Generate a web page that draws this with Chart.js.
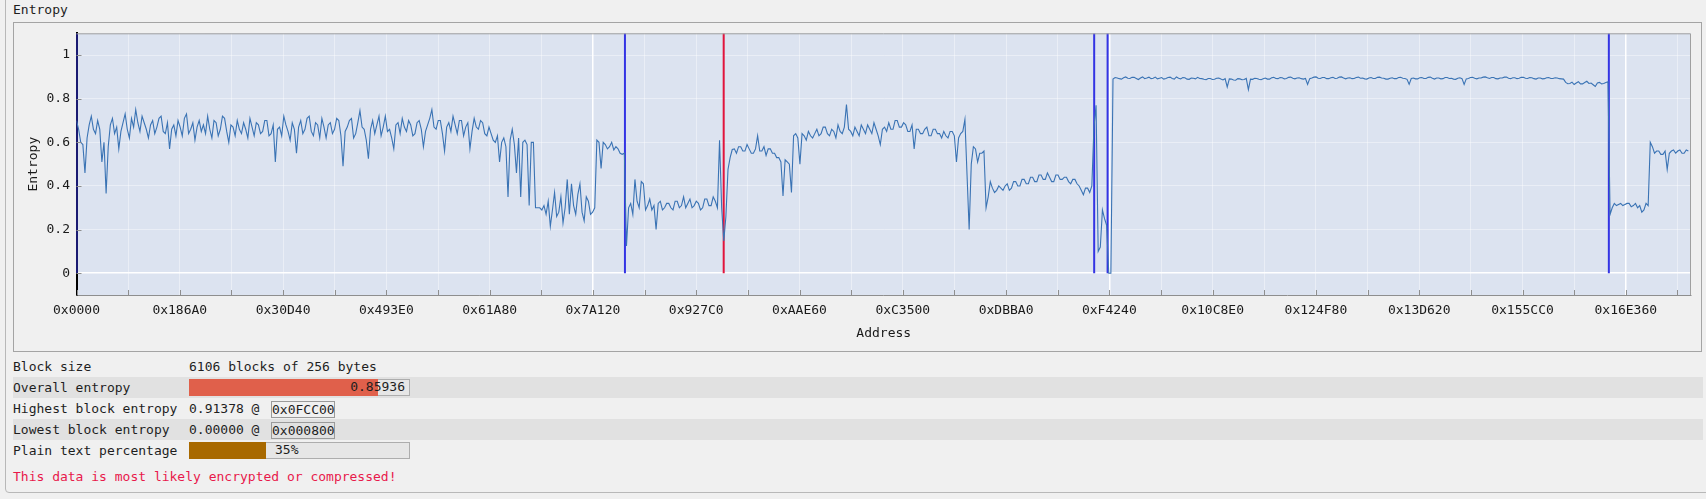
<!DOCTYPE html>
<html>
<head>
<meta charset="utf-8">
<script src="https://cdn.jsdelivr.net/npm/chart.js@4.4.0/dist/chart.umd.min.js"></script>
<style>
  html, body { margin: 0; padding: 0; }
  body {
    width: 1706px; height: 499px; position: relative; overflow: hidden;
    background: #f0f0f0; color: #1e1e1e;
    font-family: "DejaVu Sans Mono", "Liberation Mono", monospace; font-size: 13px;
  }
  .frame { position: absolute; left: 5px; top: -10px; width: 1720px; height: 503px;
           border: 1px solid #b8b8b8; border-radius: 4px; box-sizing: border-box; }
  .box { position: absolute; left: 13px; top: 22px; width: 1689px; height: 330px;
         border: 1px solid #a4a4a4; box-sizing: border-box; }
  .t { position: absolute; height: 16px; line-height: 16px; white-space: pre; }
  .band { position: absolute; left: 13px; width: 1690px; height: 21px; background: #e1e1e1; }
  .bar { position: absolute; left: 189px; width: 221px; height: 17px; background: #e6e6e6;
         border: 1px solid #adadad; box-sizing: border-box; }
  .fill { position: absolute; left: 189px; height: 17px; }
  .hex { position: absolute; left: 271px; width: 64px; height: 17px; line-height: 15px;
         border: 1px solid #9a9a9a; box-sizing: border-box; white-space: pre; }
  #chart { position: absolute; left: 14px; top: 23px; }
</style>
</head>
<body>
<div class="frame"></div>
<div class="t" style="left:13px; top:2px;">Entropy</div>
<div class="box"></div>
<canvas id="chart" width="1686" height="327" style="width:1686px; height:327px;"></canvas>

<div class="t" style="left:13px; top:359px;">Block size</div>
<div class="t" style="left:189px; top:359px;">6106 blocks of 256 bytes</div>

<div class="band" style="top:377px;"></div>
<div class="t" style="left:13px; top:380px;">Overall entropy</div>
<div class="bar" style="top:379px;"></div>
<div class="fill" id="entropyFill" style="top:379px; background:#e0604b;"></div>
<div class="t" id="entropyText" style="left:189px; top:379px; width:216px; text-align:right;"></div>

<div class="t" style="left:13px; top:401px;">Highest block entropy</div>
<div class="t" style="left:189px; top:401px;">0.91378 @ </div>
<div class="hex" style="top:401px;">0x0FCC00</div>

<div class="band" style="top:419px;"></div>
<div class="t" style="left:13px; top:422px;">Lowest block entropy</div>
<div class="t" style="left:189px; top:422px;">0.00000 @ </div>
<div class="hex" style="top:422px;">0x000800</div>

<div class="t" style="left:13px; top:443px;">Plain text percentage</div>
<div class="bar" style="top:442px;"></div>
<div class="fill" id="plainFill" style="top:442px; background:#a86900;"></div>
<div class="t" id="plainText" style="left:275px; top:442px;"></div>

<div class="t" style="left:13px; top:469px; color:#e8194b;">This data is most likely encrypted or compressed!</div>

<script>
// one sample every 8 blocks of 256 bytes
var blockStep = 2048;
var totalBytes = 6106 * 256;

var entropy = [
  // 0
  0.70, 0.66, 0.60, 0.59, 0.46, 0.62, 0.68, 0.72, 0.66, 0.64, 0.70, 0.66, 0.51, 0.60, 0.365, 0.58, 0.68, 0.71, 0.64, 0.67,
  0.57, 0.65, 0.69, 0.73, 0.66, 0.62, 0.71, 0.67, 0.75, 0.69, 0.65, 0.72, 0.69, 0.66, 0.62, 0.68, 0.70, 0.64, 0.67, 0.71,
  // 40
  0.72, 0.65, 0.64, 0.69, 0.57, 0.66, 0.68, 0.63, 0.70, 0.67, 0.63, 0.71, 0.73, 0.64, 0.66, 0.69, 0.61, 0.67, 0.70, 0.65,
  0.68, 0.64, 0.72, 0.66, 0.62, 0.70, 0.69, 0.63, 0.66, 0.72, 0.71, 0.65, 0.60, 0.68, 0.67, 0.63, 0.70, 0.66, 0.64, 0.69,
  // 80
  0.66, 0.62, 0.71, 0.67, 0.63, 0.69, 0.68, 0.64, 0.65, 0.70, 0.70, 0.63, 0.64, 0.68, 0.51, 0.66, 0.67, 0.63, 0.72, 0.68,
  0.65, 0.61, 0.69, 0.66, 0.55, 0.67, 0.70, 0.64, 0.66, 0.71, 0.72, 0.65, 0.63, 0.69, 0.68, 0.62, 0.71, 0.67, 0.62, 0.68,
  // 120
  0.69, 0.64, 0.66, 0.71, 0.70, 0.63, 0.49, 0.65, 0.67, 0.70, 0.71, 0.62, 0.64, 0.69, 0.745, 0.67, 0.66, 0.61, 0.525, 0.66,
  0.70, 0.64, 0.68, 0.72, 0.63, 0.67, 0.72, 0.65, 0.66, 0.62, 0.57, 0.68, 0.69, 0.64, 0.71, 0.67, 0.65, 0.70, 0.68, 0.63,
  // 160
  0.64, 0.69, 0.70, 0.66, 0.58, 0.65, 0.68, 0.71, 0.75, 0.67, 0.66, 0.70, 0.70, 0.64, 0.56, 0.67, 0.69, 0.65, 0.72, 0.68,
  0.64, 0.70, 0.70, 0.63, 0.67, 0.69, 0.57, 0.65, 0.71, 0.67, 0.66, 0.70, 0.69, 0.64, 0.63, 0.67, 0.64, 0.61, 0.60, 0.63,
  // 200
  0.51, 0.60, 0.62, 0.58, 0.35, 0.61, 0.66, 0.59, 0.46, 0.62, 0.35, 0.60, 0.61, 0.59, 0.31, 0.60, 0.60, 0.30, 0.30, 0.30,
  0.29, 0.31, 0.27, 0.33, 0.215, 0.29, 0.37, 0.26, 0.28, 0.35, 0.23, 0.30, 0.43, 0.27, 0.41, 0.31, 0.27, 0.36, 0.41, 0.28,
  // 240
  0.24, 0.35, 0.33, 0.27, 0.28, 0.30, 0.61, 0.60, 0.48, 0.60, 0.59, 0.57, 0.58, 0.60, 0.565, 0.58, 0.57, 0.55, 0.545, 0.55,
  0.125, 0.30, 0.32, 0.27, 0.43, 0.33, 0.30, 0.42, 0.41, 0.29, 0.31, 0.34, 0.29, 0.31, 0.20, 0.32, 0.33, 0.29, 0.30, 0.32,
  // 280
  0.32, 0.30, 0.29, 0.33, 0.33, 0.30, 0.31, 0.35, 0.30, 0.32, 0.34, 0.30, 0.31, 0.33, 0.32, 0.29, 0.30, 0.34, 0.34, 0.31,
  0.31, 0.35, 0.33, 0.30, 0.61, 0.30, 0.148, 0.26, 0.476, 0.53, 0.567, 0.57, 0.55, 0.58, 0.58, 0.56, 0.56, 0.59, 0.57, 0.55,
  // 320
  0.55, 0.57, 0.63, 0.56, 0.56, 0.58, 0.54, 0.57, 0.57, 0.55, 0.55, 0.53, 0.53, 0.51, 0.354, 0.52, 0.51, 0.50, 0.37, 0.63,
  0.64, 0.62, 0.50, 0.64, 0.63, 0.61, 0.65, 0.63, 0.62, 0.64, 0.66, 0.63, 0.64, 0.67, 0.67, 0.64, 0.63, 0.66, 0.65, 0.62,
  // 360
  0.68, 0.65, 0.64, 0.67, 0.773, 0.66, 0.65, 0.63, 0.67, 0.65, 0.63, 0.68, 0.66, 0.64, 0.68, 0.66, 0.64, 0.69, 0.66, 0.63,
  0.59, 0.66, 0.67, 0.65, 0.69, 0.66, 0.66, 0.70, 0.70, 0.67, 0.67, 0.69, 0.68, 0.65, 0.65, 0.68, 0.57, 0.66, 0.66, 0.64,
  // 400
  0.64, 0.66, 0.67, 0.63, 0.63, 0.66, 0.66, 0.64, 0.64, 0.62, 0.65, 0.63, 0.62, 0.65, 0.65, 0.63, 0.51, 0.62, 0.64, 0.65,
  0.705, 0.45, 0.20, 0.50, 0.58, 0.57, 0.51, 0.55, 0.55, 0.56, 0.30, 0.35, 0.42, 0.39, 0.37, 0.38, 0.40, 0.39, 0.38, 0.40,
  // 440
  0.41, 0.38, 0.39, 0.42, 0.42, 0.40, 0.40, 0.43, 0.43, 0.41, 0.41, 0.44, 0.44, 0.42, 0.42, 0.45, 0.45, 0.43, 0.43, 0.46,
  0.44, 0.42, 0.42, 0.45, 0.45, 0.43, 0.43, 0.44, 0.44, 0.42, 0.41, 0.43, 0.43, 0.41, 0.40, 0.38, 0.36, 0.39, 0.39, 0.37,
  // 480
  0.40, 0.67, 0.77, 0.10, 0.12, 0.29, 0.25, 0.22, 0.0, 0.0, 0.89, 0.897, 0.895, 0.892, 0.89, 0.896, 0.90, 0.894, 0.893, 0.898,
  0.898, 0.893, 0.888, 0.895, 0.90, 0.892, 0.895, 0.899, 0.892, 0.894, 0.899, 0.891, 0.894, 0.897, 0.89, 0.893, 0.897, 0.899, 0.893, 0.89,
  // 520
  0.90, 0.894, 0.891, 0.897, 0.896, 0.89, 0.889, 0.895, 0.894, 0.891, 0.898, 0.893, 0.892, 0.889, 0.887, 0.893, 0.893, 0.888, 0.889, 0.894,
  0.895, 0.89, 0.886, 0.892, 0.854, 0.891, 0.89, 0.886, 0.885, 0.892, 0.891, 0.887, 0.888, 0.893, 0.842, 0.89, 0.889, 0.894, 0.893, 0.889,
  // 560
  0.887, 0.892, 0.895, 0.89, 0.89, 0.896, 0.898, 0.893, 0.892, 0.897, 0.896, 0.891, 0.893, 0.898, 0.899, 0.894, 0.891, 0.895, 0.896, 0.892,
  0.89, 0.893, 0.866, 0.892, 0.895, 0.899, 0.90, 0.894, 0.893, 0.897, 0.897, 0.892, 0.892, 0.896, 0.898, 0.893, 0.894, 0.899, 0.90, 0.895,
  // 600
  0.891, 0.895, 0.896, 0.892, 0.893, 0.897, 0.899, 0.894, 0.895, 0.891, 0.89, 0.895, 0.897, 0.893, 0.893, 0.898, 0.899, 0.895, 0.894, 0.89,
  0.89, 0.894, 0.896, 0.892, 0.892, 0.897, 0.898, 0.894, 0.893, 0.889, 0.866, 0.893, 0.895, 0.891, 0.891, 0.896, 0.897, 0.893, 0.893, 0.898,
  // 640
  0.899, 0.894, 0.89, 0.895, 0.895, 0.891, 0.892, 0.897, 0.897, 0.893, 0.894, 0.89, 0.889, 0.894, 0.896, 0.892, 0.866, 0.891, 0.893, 0.897,
  0.898, 0.894, 0.891, 0.895, 0.895, 0.899, 0.90, 0.896, 0.893, 0.897, 0.897, 0.892, 0.891, 0.895, 0.895, 0.899, 0.899, 0.894, 0.892, 0.896,
  // 680
  0.896, 0.892, 0.894, 0.898, 0.898, 0.894, 0.893, 0.897, 0.896, 0.892, 0.89, 0.895, 0.895, 0.891, 0.892, 0.896, 0.897, 0.893, 0.893, 0.896,
  0.895, 0.892, 0.891, 0.89, 0.875, 0.869, 0.87, 0.876, 0.865, 0.872, 0.878, 0.868, 0.868, 0.874, 0.88, 0.87, 0.872, 0.864, 0.856, 0.872,
  // 720
  0.875, 0.868, 0.87, 0.874, 0.878, 0.27, 0.30, 0.32, 0.31, 0.315, 0.32, 0.31, 0.315, 0.32, 0.32, 0.305, 0.31, 0.32, 0.30, 0.31,
  0.28, 0.29, 0.32, 0.31, 0.60, 0.58, 0.55, 0.56, 0.56, 0.545, 0.545, 0.56, 0.476, 0.55, 0.56, 0.565, 0.55, 0.56, 0.565, 0.55,
  // 760
  0.55, 0.565, 0.56
];

var blueMarks = [0, 531000, 985300, 998300, 1483600];
var redMarks = [626600];

var yTickValues = [0, 0.2, 0.4, 0.6, 0.8, 1];
var yTickLabels = ["0", "0.2", "0.4", "0.6", "0.8", "1"];

var xLabelStep = 100000;
var xGridStep = 50000;
var xTickLabels = ["0x0000", "0x186A0", "0x30D40", "0x493E0", "0x61A80", "0x7A120", "0x927C0", "0xAAE60",
  "0xC3500", "0xDBBA0", "0xF4240", "0x10C8E0", "0x124F80", "0x13D620", "0x155CC0", "0x16E360"];

var overallEntropy = 0.85936;
var plainTextPercent = 35;

// stats bars
var barWidth = 220.5;
document.getElementById("entropyFill").style.width = (barWidth * overallEntropy) + "px";
document.getElementById("entropyText").textContent = overallEntropy.toFixed(5);
document.getElementById("plainFill").style.width = (barWidth * plainTextPercent / 100) + "px";
document.getElementById("plainText").textContent = plainTextPercent + "%";

Chart.defaults.font.family = "'DejaVu Sans Mono', 'Liberation Mono', monospace";
Chart.defaults.font.size = 13;
Chart.defaults.color = "#1a1a1a";

var xGridValues = [];
for (var v = 0; v < totalBytes; v += xGridStep) xGridValues.push(v);

var panel = {
  id: "panel",
  beforeDraw: function(chart) {
    var ctx = chart.ctx, a = chart.chartArea;
    ctx.save();
    ctx.fillStyle = "#dce3f0";
    ctx.fillRect(a.left, a.top, a.right - a.left, a.bottom - a.top);
    ctx.restore();
  },
  afterDraw: function(chart) {
    var ctx = chart.ctx, a = chart.chartArea, sx = chart.scales.x, sy = chart.scales.y;
    ctx.save();
    ctx.strokeStyle = "#8e8e8e";
    ctx.lineWidth = 1;
    ctx.beginPath();
    sx.ticks.forEach(function(t) {
      var px = Math.round(sx.getPixelForValue(t.value)) + 0.5;
      ctx.moveTo(px, a.bottom);
      ctx.lineTo(px, a.bottom - 5);
    });
    sy.ticks.forEach(function(t) {
      var py = Math.round(sy.getPixelForValue(t.value)) + 0.5;
      ctx.moveTo(a.left, py);
      ctx.lineTo(a.left + 5, py);
    });
    ctx.stroke();
    ctx.strokeStyle = "#a0a0a0";
    ctx.beginPath();
    ctx.moveTo(a.left, a.top + 0.5);
    ctx.lineTo(a.right - 0.5, a.top + 0.5);
    ctx.lineTo(a.right - 0.5, a.bottom);
    ctx.stroke();
    ctx.restore();
  }
};

function markLine(addr, color) {
  return {
    data: [{ x: addr, y: 0 }, { x: addr, y: 1.1 }],
    borderColor: color,
    borderWidth: 2,
    pointRadius: 0
  };
}

var datasets = [{
  data: entropy.map(function(e, i) { return { x: i * blockStep, y: e }; }),
  borderColor: "#3a73b4",
  borderWidth: 1.1,
  pointRadius: 0,
  tension: 0
}];
blueMarks.forEach(function(a) { datasets.push(markLine(a, "#3434e4")); });
redMarks.forEach(function(a) { datasets.push(markLine(a, "#e1143c")); });

new Chart(document.getElementById("chart").getContext("2d"), {
  type: "line",
  data: { datasets: datasets },
  options: {
    responsive: false,
    animation: false,
    layout: { padding: { left: 0, top: 10.3, right: 9, bottom: 0 } },
    plugins: { legend: { display: false }, tooltip: { enabled: false } },
    scales: {
      x: {
        type: "linear",
        min: 0,
        max: totalBytes,
        afterBuildTicks: function(s) {
          s.ticks = xGridValues.map(function(v) { return { value: v }; });
        },
        afterFit: function(s) {
          s.height = 55;
          s.paddingLeft = 0;
          s.paddingRight = 0;
        },
        ticks: {
          autoSkip: false,
          maxRotation: 0,
          padding: 8,
          callback: function(value) {
            if (value % xLabelStep !== 0) return "";
            return xTickLabels[value / xLabelStep];
          }
        },
        grid: {
          drawTicks: false,
          color: function(c) {
            return c.tick && c.tick.value % 500000 === 0 ? "#ffffff" : "rgba(255,255,255,0.4)";
          },
          lineWidth: function(c) {
            return c.tick && c.tick.value % 500000 === 0 ? 1.5 : 1;
          }
        },
        border: { color: "#8e8e8e", width: 1 },
        title: { display: true, text: "Address", padding: { top: 0, bottom: 9 } }
      },
      y: {
        min: -0.1,
        max: 1.1,
        afterBuildTicks: function(s) {
          s.ticks = yTickValues.map(function(v) { return { value: v }; });
        },
        afterFit: function(s) {
          s.width = 62.5;
          s.paddingTop = 0;
          s.paddingBottom = 0;
        },
        ticks: {
          padding: 6.5,
          callback: function(value) {
            return yTickLabels[yTickValues.indexOf(value)];
          }
        },
        grid: {
          drawTicks: false,
          color: function(c) {
            return c.tick && c.tick.value === 0 ? "#ffffff" : "rgba(255,255,255,0.4)";
          },
          lineWidth: function(c) {
            return c.tick && c.tick.value === 0 ? 1.5 : 1;
          }
        },
        border: { color: "#000000", width: 2 },
        title: { display: true, text: "Entropy", padding: { top: 12, bottom: 0 } }
      }
    }
  },
  plugins: [panel]
});
</script>
</body>
</html>
